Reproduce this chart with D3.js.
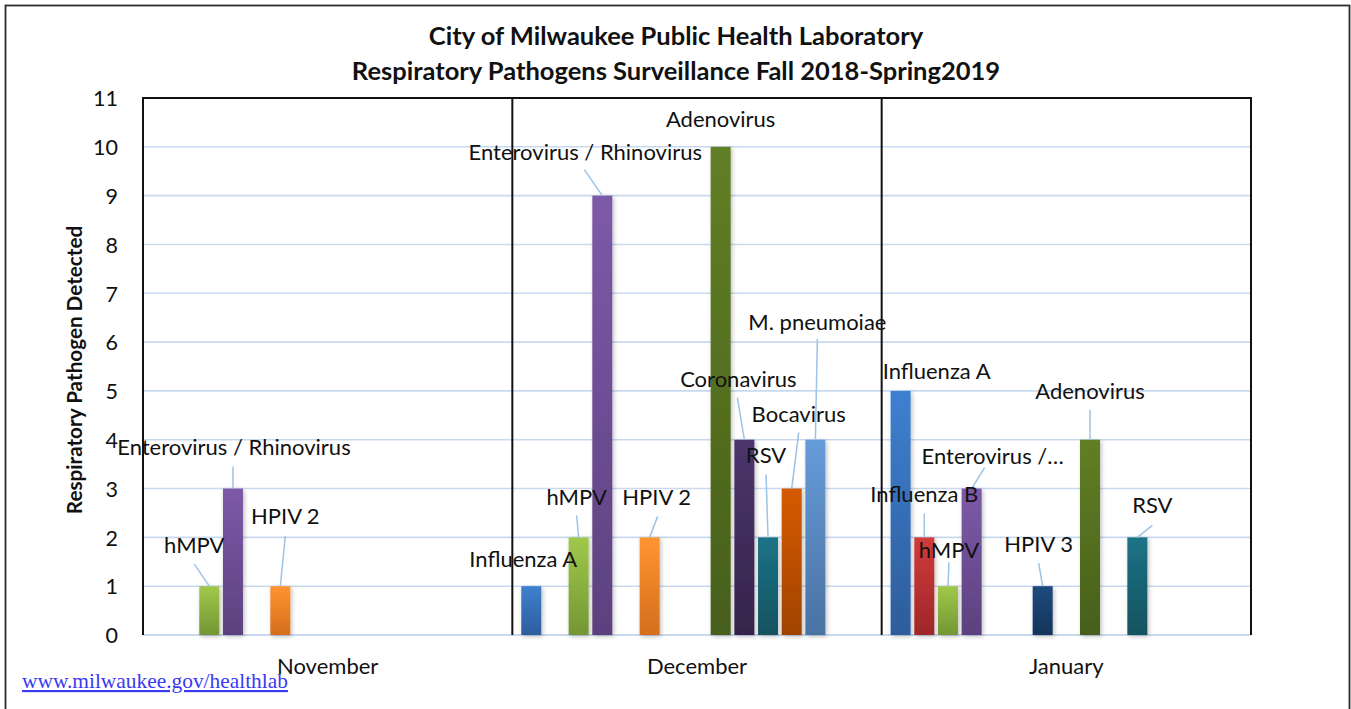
<!DOCTYPE html>
<html>
<head>
<meta charset="utf-8">
<script src="https://cdn.jsdelivr.net/npm/d3@7"></script>
<style>
  html, body { margin: 0; padding: 0; background: #fff; }
  svg { display: block; }
</style>
</head>
<body>
<svg id="chart" width="1351" height="709"></svg>
<script>
// ---------------- DATA ----------------
const months = ["November", "December", "January"];
const series = [
  "Influenza A", "Influenza B", "hMPV", "Enterovirus / Rhinovirus",
  "HPIV 1", "HPIV 2", "HPIV 3", "HPIV 4",
  "Adenovirus", "Coronavirus", "RSV", "Bocavirus", "M. pneumoiae",
  "C. pneumoniae", "B. pertussis"
];
// values per series, in month order [November, December, January]
const influenzaA  = [0, 1, 5];
const influenzaB  = [0, 0, 2];
const hmpv        = [1, 2, 1];
const enteroRhino = [3, 9, 3];
const hpiv1       = [0, 0, 0];
const hpiv2       = [1, 2, 0];
const hpiv3       = [0, 0, 1];
const hpiv4       = [0, 0, 0];
const adenovirus  = [0, 10, 4];
const coronavirus = [0, 4, 0];
const rsv         = [0, 2, 2];
const bocavirus   = [0, 3, 0];
const mpneumoiae  = [0, 4, 0];
const cpneumoniae = [0, 0, 0];
const bpertussis  = [0, 0, 0];
const seriesValues = [influenzaA, influenzaB, hmpv, enteroRhino, hpiv1, hpiv2, hpiv3, hpiv4,
  adenovirus, coronavirus, rsv, bocavirus, mpneumoiae, cpneumoniae, bpertussis];
const yTicks = [0,1,2,3,4,5,6,7,8,9,10,11];
const titleLines = ["City of Milwaukee Public Health Laboratory",
                    "Respiratory Pathogens Surveillance Fall 2018-Spring2019"];
const yTitle = "Respiratory Pathogen Detected";
const footerLink = "www.milwaukee.gov/healthlab";

// ---------------- STYLE ----------------
const colors = {
  "Influenza A": ["#3e80d0", "#2d5d9c"],
  "Influenza B": ["#d23b3b", "#9e2728"],
  "hMPV": ["#a0c84b", "#739634"],
  "Enterovirus / Rhinovirus": ["#7d5aa8", "#5c417e"],
  "HPIV 1": ["#888", "#666"],
  "HPIV 2": ["#ff9430", "#d46e1d"],
  "HPIV 3": ["#1f4a7e", "#15345a"],
  "HPIV 4": ["#888", "#666"],
  "Adenovirus": ["#617f25", "#475f1a"],
  "Coronavirus": ["#4c356b", "#35244b"],
  "RSV": ["#1c7387", "#12525f"],
  "Bocavirus": ["#d65a00", "#a04300"],
  "M. pneumoiae": ["#669cda", "#4a72a3"],
  "C. pneumoniae": ["#888", "#666"],
  "B. pertussis": ["#888", "#666"]
};
// label placement: [month, series, text, dx, dy, leaderDx, leaderDy] relative to bar top centre
const labelLayout = [
  ["November", "hMPV", "hMPV", -15, -33, -15, -22],
  ["November", "Enterovirus / Rhinovirus", "Enterovirus / Rhinovirus", 1, -34, 0, -22],
  ["November", "HPIV 2", "HPIV 2", 5, -62, 5, -50],
  ["December", "Influenza A", "Influenza A", -8, -19, null, null],
  ["December", "hMPV", "hMPV", -2, -32, -2, -22],
  ["December", "Enterovirus / Rhinovirus", "Enterovirus / Rhinovirus", -17, -36, -18, -26],
  ["December", "HPIV 2", "HPIV 2", 7, -32, 8, -21],
  ["December", "Adenovirus", "Adenovirus", 0, -20, null, null],
  ["December", "Coronavirus", "Coronavirus", -6, -53, -7, -42],
  ["December", "RSV", "RSV", -2, -74, -2, -63],
  ["December", "Bocavirus", "Bocavirus", 7, -67, 7, -56],
  ["December", "M. pneumoiae", "M. pneumoiae", 2, -110, 2, -101],
  ["January", "Influenza A", "Influenza A", 36, -12, null, null],
  ["January", "Influenza B", "Influenza B", 0, -35, 0, -24],
  ["January", "hMPV", "hMPV", 1, -28, 1, -24],
  ["January", "Enterovirus / Rhinovirus", "Enterovirus /\u2026", 21, -25, 13, -21],
  ["January", "HPIV 3", "HPIV 3", -4, -34, -4, -23],
  ["January", "Adenovirus", "Adenovirus", 0, -41, 0, -30],
  ["January", "RSV", "RSV", 15, -24, 15, -12]
];

const FONT = "Lato, 'Open Sans', sans-serif";
const svg = d3.select("#chart");
const plot = {left: 143, right: 1251, top: 98, bottom: 635};

// scales
const x0 = d3.scaleBand().domain(months).range([plot.left, plot.right]).padding(0);
const x1 = d3.scaleBand().domain(series).range([0, x0.bandwidth()])
  .paddingInner(0.155).paddingOuter(0.378);
const y = d3.scaleLinear().domain([0, 11]).range([plot.bottom, plot.top]);

// defs: gradients & shadow
const defs = svg.append("defs");
series.forEach((s, i) => {
  const g = defs.append("linearGradient").attr("id", "grad" + i)
    .attr("x1", 0).attr("y1", 0).attr("x2", 0).attr("y2", 1);
  g.append("stop").attr("offset", "0%").attr("stop-color", colors[s][0]);
  g.append("stop").attr("offset", "100%").attr("stop-color", colors[s][1]);
});
const f = defs.append("filter").attr("id", "shadow").attr("x", "-30%").attr("y", "-10%")
  .attr("width", "160%").attr("height", "130%");
f.append("feDropShadow").attr("dx", 1.5).attr("dy", 1.5).attr("stdDeviation", 2)
  .attr("flood-color", "#000").attr("flood-opacity", 0.25);

// outer border
svg.append("rect").attr("x", 5.5).attr("y", 5.5).attr("width", 1344).attr("height", 720)
  .attr("fill", "#fff").attr("stroke", "#2a2a2a").attr("stroke-width", 1.8);

// title
svg.append("text").attr("x", 676).attr("y", 45).attr("text-anchor", "middle")
  .attr("font-family", FONT).attr("font-weight", "bold").attr("font-size", 25.5)
  .attr("fill", "#111").text(titleLines[0]);
svg.append("text").attr("x", 676).attr("y", 80).attr("text-anchor", "middle")
  .attr("font-family", FONT).attr("font-weight", "bold").attr("font-size", 25.5)
  .attr("fill", "#111").text(titleLines[1]);

// gridlines
svg.append("g").selectAll("line").data(yTicks.filter(d => d > 0 && d < 11)).join("line")
  .attr("x1", plot.left).attr("x2", plot.right)
  .attr("y1", d => y(d)).attr("y2", d => y(d))
  .attr("stroke", "#c9daf0").attr("stroke-width", 1.6);
svg.append("line").attr("x1", plot.left).attr("x2", plot.right)
  .attr("y1", y(0)).attr("y2", y(0)).attr("stroke", "#c9daf0").attr("stroke-width", 1.8);

// y axis tick labels
const yAxis = d3.axisLeft(y).tickValues(yTicks).tickSize(0).tickPadding(0).tickFormat(d3.format("d"));
const yg = svg.append("g").attr("transform", `translate(118,0)`).call(yAxis);
yg.select(".domain").remove();
yg.selectAll("text").attr("font-family", FONT).attr("font-size", 21.5).attr("fill", "#111")
  .attr("dy", "0.36em");

// y title
svg.append("text").attr("transform", "translate(82,370) rotate(-90)").attr("text-anchor", "middle")
  .attr("font-family", FONT).attr("font-weight", "bold").attr("font-size", 20.7)
  .attr("fill", "#111").text(yTitle);

// bars
const barData = [];
months.forEach((m, mi) => series.forEach((s, si) => {
  const v = seriesValues[si][mi];
  if (v > 0) barData.push({m, s, si, v});
}));
const barW = 20;
const cx = d => x0(d.m) + x1(d.s) + x1.bandwidth() / 2;
svg.append("g").selectAll("rect").data(barData).join("rect")
  .attr("x", d => cx(d) - barW / 2).attr("width", barW)
  .attr("y", d => y(d.v)).attr("height", d => y(0) - y(d.v))
  .attr("fill", d => `url(#grad${d.si})`).attr("filter", "url(#shadow)");

// frame: top, left, right and month separators
svg.append("line").attr("x1", plot.left - 1).attr("x2", plot.right + 1).attr("y1", plot.top).attr("y2", plot.top)
  .attr("stroke", "#111").attr("stroke-width", 2);
const seps = months.map(m => x0(m)).concat([plot.right]);
svg.append("g").selectAll("line").data(seps).join("line")
  .attr("x1", d => d).attr("x2", d => d).attr("y1", plot.top).attr("y2", plot.bottom)
  .attr("stroke", "#111").attr("stroke-width", 2);

// month labels
svg.append("g").selectAll("text").data(months).join("text")
  .attr("x", d => x0(d) + x0.bandwidth() / 2).attr("y", 674).attr("text-anchor", "middle")
  .attr("font-family", FONT).attr("font-size", 22).attr("fill", "#111").text(d => d);

// data labels with leader lines
const lbl = labelLayout.map(([m, s, text, dx, dy, ldx, ldy]) => {
  const si = series.indexOf(s);
  const v = seriesValues[si][months.indexOf(m)];
  const bx = x0(m) + x1(s) + x1.bandwidth() / 2;
  const by = y(v);
  return {text, bx, by, dx, dy, ldx, ldy};
});
svg.append("g").selectAll("line").data(lbl.filter(d => d.ldx !== null)).join("line")
  .attr("x1", d => d.bx + d.ldx).attr("y1", d => d.by + d.ldy)
  .attr("x2", d => d.bx).attr("y2", d => d.by)
  .attr("stroke", "#9dc3e6").attr("stroke-width", 1.5);
svg.append("g").selectAll("text").data(lbl).join("text")
  .attr("x", d => d.bx + d.dx).attr("y", d => d.by + d.dy).attr("text-anchor", "middle")
  .attr("font-family", FONT).attr("font-size", 22).attr("fill", "#111").text(d => d.text);

// footer link
svg.append("text").attr("x", 22).attr("y", 688)
  .attr("font-family", "'Liberation Serif', 'Times New Roman', serif").attr("font-size", 21.4)
  .attr("fill", "#3a3af2").attr("text-decoration", "underline").text(footerLink);
</script>
</body>
</html>
